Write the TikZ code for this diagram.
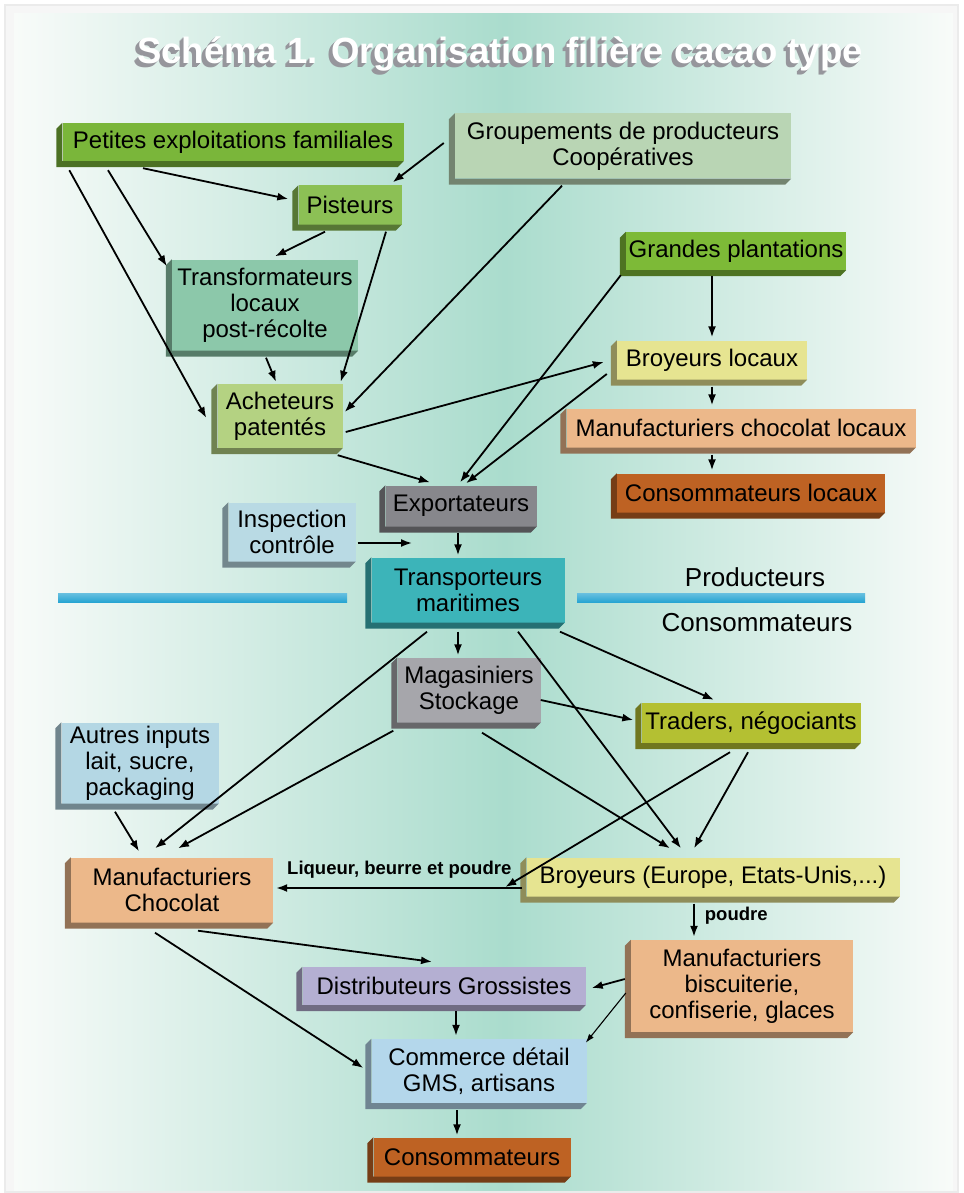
\documentclass[tikz,border=0pt]{standalone}
\usepackage{fontspec}
\setmainfont{Liberation Sans}
\usepackage{xcolor}
\usepackage{tikz}
\usetikzlibrary{arrows.meta}

\definecolor{bgside}{RGB}{248,251,249}
\definecolor{bgmid}{RGB}{170,220,205}
\definecolor{ttlgray}{RGB}{150,150,156}
\definecolor{cpet}{RGB}{122,182,58}
\definecolor{cgrp}{RGB}{185,213,180}
\definecolor{cpis}{RGB}{140,192,85}
\definecolor{ctra}{RGB}{140,200,170}
\definecolor{cach}{RGB}{180,210,130}
\definecolor{cgra}{RGB}{125,186,55}
\definecolor{cbro}{RGB}{230,228,145}
\definecolor{cman}{RGB}{236,184,138}
\definecolor{ccon}{RGB}{190,98,35}
\definecolor{cexp}{RGB}{135,135,140}
\definecolor{cins}{RGB}{185,218,228}
\definecolor{ctrp}{RGB}{60,180,185}
\definecolor{cmag}{RGB}{166,166,171}
\definecolor{ctrd}{RGB}{180,192,50}
\definecolor{caut}{RGB}{180,215,228}
\definecolor{cdis}{RGB}{180,175,210}
\definecolor{ccom}{RGB}{180,215,235}
\definecolor{cbar}{RGB}{40,165,210}

% title and its extruded grey shadow, kept in one text
\newcommand{\ttltext}{Schéma 1. Organisation filière cacao type}
\newcommand{\ttlshd}[1]{\rlap{\kern-#1pt\raisebox{-#1pt}{\textcolor{ttlgray}{\ttltext}}}}

\begin{document}
\begin{tikzpicture}[x=1pt, y=-1pt, >={Latex[length=11pt,width=8pt]},
    box/.style={align=center, inner sep=0pt, text=black,
                font=\fontsize{24}{26}\selectfont},
    wh/.style 2 args={minimum width=#1pt, minimum height=#2pt},
    arr/.style={->, line width=1.8pt},
    lbl/.style={font=\bfseries\fontsize{18.5}{20}\selectfont, inner sep=0pt},
    ttl/.style={font=\bfseries\fontsize{36.5}{40}\selectfont, inner sep=0pt, anchor=base}]

    \useasboundingbox (0,0) rectangle (963,1193);

    % Frame and background
    \fill[white] (0,0) rectangle (963,1193);
    \fill[gray!16] (4,4) rectangle (959,1193);
    \fill[gray!7] (6,6) rectangle (957,1191);
    \fill[left color=bgside, right color=bgmid] (14,14) rectangle (505,1190);
    \fill[left color=bgmid, right color=bgside] (505,14) rectangle (953,1190);

    % Title
    \node[ttl, text=white] (ttl) at (500,64)
        {\ttlshd{4}\ttlshd{3}\ttlshd{2}\ttlshd{1}\ttltext};

    % Producers side
    \node[box, wh={341}{38}, fill=cpet] (pet) at (233,142) {Petites exploitations familiales};
    \node[box, wh={336}{65}, fill=cgrp] (grp) at (623,146) {Groupements de producteurs\\Coopératives};
    \node[box, wh={103}{39}, fill=cpis] (pis) at (350,205) {Pisteurs};
    \node[box, wh={186}{91}, fill=ctra] (tra) at (265,305) {Transformateurs\\locaux\\post-récolte};
    \node[box, wh={125}{64}, fill=cach] (ach) at (280,416) {Acheteurs\\patentés};
    \node[box, wh={220}{38}, fill=cgra] (gra) at (736,251) {Grandes plantations};
    \node[box, wh={190}{39}, fill=cbro] (bro) at (712,360) {Broyeurs locaux};
    \node[box, wh={349}{39}, fill=cman] (mlo) at (741,428) {Manufacturiers chocolat locaux};
    \node[box, wh={268}{39}, fill=ccon] (clo) at (751,493) {Consommateurs locaux};
    \node[box, wh={151}{41}, fill=cexp] (exp) at (461,506) {Exportateurs};
    \node[box, wh={127}{59}, fill=cins] (ins) at (292,532) {Inspection\\contrôle};
    \node[box, wh={193}{65}, fill=ctrp] (trp) at (468,590) {Transporteurs\\maritimes};

    % Consumers side
    \node[box, wh={143}{65}, fill=cmag] (mag) at (469,690) {Magasiniers\\Stockage};
    \node[box, wh={219}{40}, fill=ctrd] (trd) at (751,723) {Traders, négociants};
    \node[box, wh={157}{81}, fill=caut] (aut) at (140,763) {Autres inputs\\lait, sucre,\\packaging};
    \node[box, wh={202}{65}, fill=cman] (mch) at (172,890) {Manufacturiers\\Chocolat};
    \node[box, wh={373}{39}, fill=cbro] (bre) at (713,877) {Broyeurs (Europe, Etats-Unis,...)};
    \node[box, wh={222}{92}, fill=cman] (mbi) at (742,986) {Manufacturiers\\biscuiterie,\\confiserie, glaces};
    \node[box, wh={283}{38}, fill=cdis] (dis) at (444,986) {Distributeurs Grossistes};
    \node[box, wh={215}{64}, fill=ccom] (com) at (479,1071) {Commerce détail\\GMS, artisans};
    \node[box, wh={197}{39}, fill=ccon] (con) at (472,1157) {Consommateurs};

    % Bevelled left and bottom sides of the boxes
    \foreach \n/\c in {pet/cpet, grp/cgrp, pis/cpis, tra/ctra, ach/cach, gra/cgra,
                       bro/cbro, mlo/cman, clo/ccon, exp/cexp, ins/cins, trp/ctrp,
                       mag/cmag, trd/ctrd, aut/caut, mch/cman, bre/cbro, mbi/cman,
                       dis/cdis, com/ccom, con/ccon}
        \fill[\c!62!black] (\n.north west) -- ++(-6,6)
            -- ([shift={(-6,6)}]\n.south west) -- ([shift={(-6,6)}]\n.south east)
            -- (\n.south east) -- (\n.south west) -- cycle;

    % The line between producers and consumers
    \fill[top color=cbar!70!white, bottom color=cbar] (58,593) rectangle (347,602);
    \fill[top color=cbar!70!white, bottom color=cbar] (577,593) rectangle (865,602);
    \node[font=\fontsize{26}{28}\selectfont] (prod) at (755,577) {Producteurs};
    \node[font=\fontsize{26}{28}\selectfont] (cons) at (757,623) {Consommateurs};

    % Flows upstream
    \draw[arr] ([xshift=-90pt,yshift=-7pt]pet.south) -- ([xshift=-10pt,yshift=6pt]pis.west);
    \draw[arr] ([xshift=-125pt,yshift=-9pt]pet.south) -- ([xshift=-5pt,yshift=-7pt]tra.north west);
    \draw[arr] ([xshift=7pt,yshift=-9pt]pet.south west) -- ([xshift=-11pt,yshift=-2pt]ach.west);
    \draw[arr] ([xshift=-11pt,yshift=3pt]grp.west) -- ([xshift=-9pt,yshift=3pt]pis.north east);
    \draw[arr] ([xshift=-61pt,yshift=-7pt]grp.south) -- ([xshift=2pt,yshift=4pt]ach.east);
    \draw[arr] ([xshift=-25pt,yshift=-7pt]pis.south) -- ([xshift=10pt,yshift=3pt]tra.north);
    \draw[arr] ([xshift=36pt,yshift=-7pt]pis.south) -- ([xshift=-2pt,yshift=2pt]ach.north east);
    \draw[arr] ([xshift=1pt,yshift=-7pt]tra.south) -- ([xshift=-4pt,yshift=2pt]ach.north);
    \draw[arr] ([xshift=3pt,yshift=-16pt]ach.east) -- ([xshift=-13pt,yshift=-2pt]bro.west);
    \draw[arr] ([xshift=-5pt,yshift=-7pt]ach.south east) -- ([xshift=-31pt,yshift=3pt]exp.north);
    \draw[arr] ([xshift=-5pt,yshift=-5pt]gra.south west) -- ([xshift=-1pt,yshift=3pt]exp.north);
    \draw[arr] ([xshift=-10pt,yshift=-14pt]bro.west) -- ([xshift=5pt,yshift=2pt]exp.north);
    \draw[arr] ([xshift=-24pt,yshift=-6pt]gra.south) -- ([yshift=3pt]bro.north);
    \draw[arr] ([yshift=-7pt]bro.south) -- ([xshift=-29pt,yshift=3pt]mlo.north);
    \draw[arr] ([xshift=-29pt,yshift=-7pt]mlo.south) -- ([xshift=-39pt,yshift=3pt]clo.north);
    \draw[arr] ([xshift=-3pt,yshift=-6pt]exp.south) -- ([xshift=-10pt,yshift=2pt]trp.north);
    \coordinate (insp) at (412,543);
    \draw[arr] ([xshift=2pt,yshift=-11pt]ins.east) -- (insp);

    % Flows downstream
    \draw[arr] ([xshift=-10pt,yshift=-9pt]trp.south) -- ([xshift=-11pt,yshift=2pt]mag.north);
    \draw[arr] ([xshift=-41pt,yshift=-9pt]trp.south) -- ([xshift=-17pt,yshift=9pt]mch.north);
    \draw[arr] ([xshift=50pt,yshift=-9pt]trp.south) -- ([xshift=-32pt,yshift=9pt]bre.north);
    \draw[arr] ([xshift=92pt,yshift=-9pt]trp.south) -- ([xshift=-37pt,yshift=3pt]trd.north);
    \draw[arr] ([yshift=-10pt]mag.east) -- ([xshift=-8pt,yshift=3pt]trd.west);
    \draw[arr] ([xshift=-4pt,yshift=-8pt]mag.south west) -- ([xshift=6pt,yshift=9pt]mch.north);
    \draw[arr] ([xshift=13pt,yshift=-10pt]mag.south) -- ([xshift=-43pt,yshift=9pt]bre.north);
    \draw[arr] ([xshift=-3pt,yshift=-9pt]trd.south) -- ([xshift=-19pt,yshift=9pt]bre.north);
    \draw[arr] ([xshift=-21pt,yshift=-9pt]trd.south) -- ([xshift=-21pt,yshift=-10pt]bre.west);
    \draw[arr] ([xshift=-25pt,yshift=-8pt]aut.south) -- ([xshift=-33pt,yshift=6pt]mch.north);
    \draw[arr] ([xshift=-4pt,yshift=-11pt]bre.west) -- ([xshift=3pt,yshift=2pt]mch.east)
        node[lbl, midway, above=9pt] (liq) {Liqueur, beurre et poudre};
    \draw[arr] ([xshift=-19pt,yshift=-7pt]bre.south) -- ([xshift=-48pt,yshift=3pt]mbi.north)
        node[lbl, pos=0.35, right=10pt] (pdr) {poudre};
    \draw[arr] ([xshift=26pt,yshift=-8pt]mch.south) -- ([xshift=-12pt,yshift=5pt]dis.north);
    \draw[arr] ([xshift=-17pt,yshift=-10pt]mch.south) -- ([xshift=-8pt,yshift=3pt]com.west);
    \draw[arr] ([xshift=-6pt,yshift=7pt]mbi.west) -- ([xshift=6pt,yshift=-2pt]dis.east);
    \draw[->, line width=1.1pt, >={Latex[length=9pt,width=6pt]}]
        ([xshift=-5pt,yshift=-7pt]mbi.west) -- ([xshift=-1pt,yshift=-4pt]com.north east);
    \draw[arr] ([xshift=12pt,yshift=-6pt]dis.south) -- ([xshift=-23pt,yshift=3pt]com.north);
    \draw[arr] ([xshift=-22pt,yshift=-7pt]com.south) -- ([xshift=-15pt,yshift=2pt]con.north);

\end{tikzpicture}
\end{document}
